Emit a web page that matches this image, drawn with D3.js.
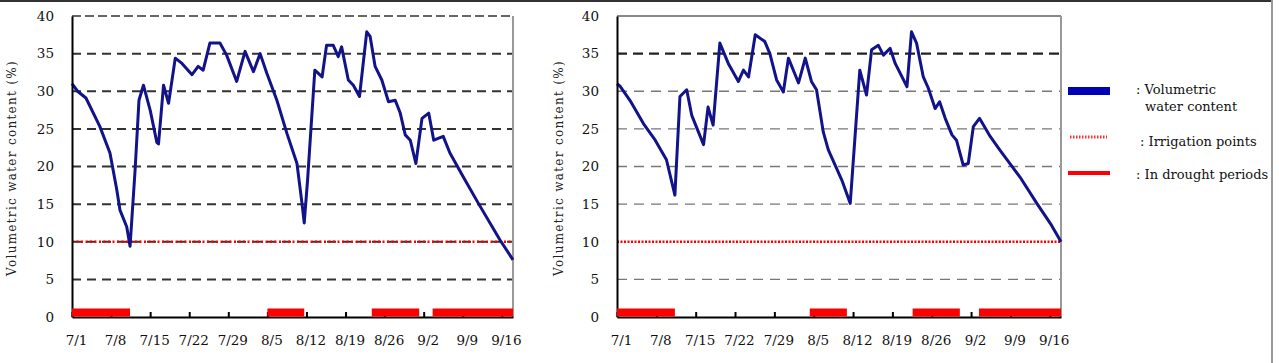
<!DOCTYPE html>
<html>
<head>
<meta charset="utf-8">
<script src="https://cdn.jsdelivr.net/npm/d3@7"></script>
<style>
  body { margin: 0; background: #fff; }
  svg { display: block; }
</style>
</head>
<body>
<div id="chart"></div>
<script>
// tick labels and positions (days since 7/1)
const tickLabels = ["7/1", "7/8", "7/15", "7/22", "7/29", "8/5", "8/12", "8/19", "8/26", "9/2", "9/9", "9/16"]
const tickDays = [0, 7, 14, 21, 28, 35, 42, 49, 56, 63, 70, 77]
const yTicks = [0, 5, 10, 15, 20, 25, 30, 35, 40]
const lastDay = 79
const irrigationPoint = 10

// left panel: volumetric water content
const daysA = [0, 1, 2.5, 5, 6.8, 8, 8.6, 9.8, 10.4, 11.3, 12, 12.8, 14, 15.2, 15.5, 16.4, 17.3, 18.5, 19.7, 21.5,
    22.6, 23.5, 24.7, 26.5, 27.7, 29.5, 31, 32.5, 33.7, 34.9, 36.7, 38.5, 40.3, 41.2, 41.6, 42.2, 43.5, 44.8,
    45.6, 46.8, 47.7, 48.3, 49.5, 50.4, 51.5, 52.8, 53.4, 54.3, 55.5, 56.7, 57.9, 58.8, 59.7, 60.6, 61.6, 62.7,
    63.9, 64.8, 66.5, 67.7, 70.1, 72.8, 76.7, 79]
const valuesA = [31, 30, 29.1, 25.3, 21.8, 17, 14.2, 12, 9.4, 19.5, 28.8, 30.8, 27.5, 23.2, 23, 30.8, 28.4, 34.4, 33.7, 32.2,
    33.3, 32.8, 36.4, 36.4, 34.8, 31.3, 35.3, 32.6, 35, 32.4, 28.8, 24.4, 20.4, 15.1, 12.5, 18.2, 32.8, 31.9,
    36.1, 36.1, 34.6, 35.9, 31.5, 30.8, 29.3, 37.9, 37.3, 33.3, 31.5, 28.6, 28.8, 27.1, 24.2, 23.5, 20.4, 26.4,
    27.1, 23.5, 24, 21.8, 18.6, 15.1, 10.2, 7.6]
const droughtA = [[0, 10.4], [35, 41.6], [53.7, 62.2], [64.6, 79]]

// right panel
const daysB = [0, 0.5, 2.3, 4.7, 6.8, 8.8, 10.3, 11.2, 12.4, 13.3, 15.4, 16.2, 17.1, 18.3, 19.8, 21.6, 22.5, 23.4,
    24.6, 26.3, 27.2, 28.4, 29.6, 30.5, 32.3, 33.5, 34.6, 35.5, 36.7, 37.6, 40, 41.5, 43.2, 44.4, 45.3, 46.5,
    47.4, 48.6, 49.5, 51.6, 52.4, 53.3, 54.5, 55.4, 56.6, 57.4, 58.4, 59.6, 60.4, 61.6, 62.5, 63.4, 64.5, 66.4,
    68.1, 71.7, 74.7, 77.3, 79]
const valuesB = [31, 30.7, 28.8, 25.7, 23.5, 20.9, 16.2, 29.3, 30.2, 26.8, 22.9, 27.9, 25.5, 36.4, 33.7, 31.3, 32.8, 31.9,
    37.5, 36.6, 35, 31.5, 29.9, 34.4, 31.1, 34.4, 31.3, 30.2, 24.6, 22.2, 18.2, 15.1, 32.8, 29.5, 35.5, 36.1,
    34.8, 35.7, 33.7, 30.6, 37.9, 36.4, 31.9, 30.4, 27.7, 28.6, 26.4, 24.2, 23.5, 20.2, 20.4, 25.3, 26.4, 24,
    22.2, 18.6, 15.1, 12.2, 10]
const droughtB = [[0, 10.3], [34.3, 40.9], [52.6, 61], [64.4, 79]]

const legendLabels = [[": Volumetric", "water content"], [": Irrigation points"], [": In drought periods"]]

const width = 1279
const height = 363
const serif = "'DejaVu Serif', 'Liberation Serif', serif"

const svg = d3.select("#chart").append("svg")
    .attr("width", width)
    .attr("height", height)

function drawPanel(opts) {
    const x = d3.scaleLinear().domain([0, lastDay]).range([opts.left, opts.right])
    const y = d3.scaleLinear().domain([0, 40]).range([317, 16])
    const g = svg.append("g")

    // grid lines
    g.append("g").selectAll("line")
        .data(yTicks.filter(v => v > 0 && v < 40 && v !== irrigationPoint))
        .join("line")
        .attr("x1", x(0)).attr("x2", x(lastDay))
        .attr("y1", d => y(d)).attr("y2", d => y(d))
        .attr("stroke", d => opts.gridStyle(d).color)
        .attr("stroke-width", d => opts.gridStyle(d).width)
        .attr("stroke-dasharray", d => opts.gridStyle(d).dash)

    // top edge
    g.append("line")
        .attr("x1", x(0)).attr("x2", x(lastDay))
        .attr("y1", y(40)).attr("y2", y(40))
        .attr("stroke", opts.topColor).attr("stroke-width", 2)
        .attr("stroke-dasharray", opts.topDash)

    // irrigation point
    if (opts.blackUnderRed) {
        g.append("line")
            .attr("x1", x(0)).attr("x2", x(lastDay))
            .attr("y1", y(irrigationPoint)).attr("y2", y(irrigationPoint))
            .attr("stroke", "#333").attr("stroke-width", 2)
            .attr("stroke-dasharray", "9,6")
    }
    g.append("line")
        .attr("x1", x(0)).attr("x2", x(lastDay))
        .attr("y1", y(irrigationPoint)).attr("y2", y(irrigationPoint))
        .attr("stroke", "#ff0000").attr("stroke-width", 2.5)
        .attr("stroke-dasharray", opts.blackUnderRed ? "2,2.5" : "2,1.5")

    // right edge
    g.append("line")
        .attr("x1", x(lastDay)).attr("x2", x(lastDay))
        .attr("y1", y(40)).attr("y2", y(0))
        .attr("stroke", "#999").attr("stroke-width", 2)

    // series
    const line = d3.line()
        .x((d, i) => x(opts.days[i]))
        .y(d => y(d))
    g.append("path")
        .datum(opts.values)
        .attr("d", line)
        .attr("fill", "none")
        .attr("stroke", "#12128a")
        .attr("stroke-width", 3)
        .attr("stroke-linejoin", "round")

    // axes
    const xAxis = d3.axisBottom(x)
        .tickValues(tickDays)
        .tickFormat((d, i) => tickLabels[i])
        .tickSizeInner(-5)
        .tickSizeOuter(0)
        .tickPadding(18)
    const gx = g.append("g")
        .attr("transform", `translate(0,${y(0)})`)
        .call(xAxis)
    gx.select(".domain").attr("stroke", "#000").attr("stroke-width", 2)
    gx.selectAll(".tick line").attr("stroke", "#000").attr("stroke-width", 2)
    gx.selectAll(".tick text")
        .attr("dx", 4)
        .attr("fill", "#111")
        .style("font-family", serif)
        .style("font-size", "13.5px")

    const yAxis = d3.axisLeft(y)
        .tickValues(yTicks)
        .tickSize(0)
        .tickPadding(18)
    const gy = g.append("g")
        .attr("transform", `translate(${x(0)},0)`)
        .call(yAxis)
    gy.select(".domain").attr("stroke", "#000").attr("stroke-width", 2)
    gy.selectAll(".tick text")
        .attr("fill", "#111")
        .style("font-family", serif)
        .style("font-size", "13.5px")

    // drought periods
    g.append("g").selectAll("rect")
        .data(opts.drought)
        .join("rect")
        .attr("x", d => x(d[0]))
        .attr("width", d => x(d[1]) - x(d[0]))
        .attr("y", y(0) - 8.5)
        .attr("height", 8)
        .attr("fill", "#ff0000")

    // y title
    g.append("text")
        .attr("transform", `translate(${opts.titleX},168) rotate(-90)`)
        .attr("text-anchor", "middle")
        .attr("fill", "#222")
        .style("font-family", serif)
        .style("font-size", "12px")
        .style("letter-spacing", "1.3px")
        .text("Volumetric water content (%)")
}

drawPanel({
    left: 72, right: 513, days: daysA, values: valuesA, drought: droughtA,
    gridStyle: () => ({color: "#333", width: 2, dash: "9,6"}),
    topColor: "#666", topDash: "9,4", blackUnderRed: true, titleX: 16
})

drawPanel({
    left: 617, right: 1061, days: daysB, values: valuesB, drought: droughtB,
    gridStyle: v => v === 35 ? {color: "#222", width: 2.2, dash: "10,6"} : {color: "#777", width: 1.3, dash: "10,7"},
    topColor: "#888", topDash: null, blackUnderRed: false, titleX: 563
})

// legend
const legend = svg.append("g")
legend.append("rect").attr("x", 1068).attr("y", 87).attr("width", 42).attr("height", 8).attr("fill", "#0000b4")
legend.append("line").attr("x1", 1070).attr("x2", 1107).attr("y1", 137).attr("y2", 137)
    .attr("stroke", "#ff3030").attr("stroke-width", 3).attr("stroke-dasharray", "1.5,1.5")
legend.append("rect").attr("x", 1068).attr("y", 171).attr("width", 42).attr("height", 4).attr("fill", "#ff0000")

const legendText = legend.append("g")
    .attr("fill", "#111")
    .style("font-family", serif)
    .style("font-size", "13px")
legendText.append("text").attr("x", 1136).attr("y", 94).text(legendLabels[0][0])
legendText.append("text").attr("x", 1145).attr("y", 111).text(legendLabels[0][1])
legendText.append("text").attr("x", 1140).attr("y", 146).text(legendLabels[1][0])
legendText.append("text").attr("x", 1136).attr("y", 179).text(legendLabels[2][0])

// outer frame
svg.append("line").attr("x1", 0).attr("x2", 1272).attr("y1", 1).attr("y2", 1)
    .attr("stroke", "#333").attr("stroke-width", 2)
svg.append("line").attr("x1", 1272).attr("x2", 1272).attr("y1", 0).attr("y2", height)
    .attr("stroke", "#999").attr("stroke-width", 2)
</script>
</body>
</html>
